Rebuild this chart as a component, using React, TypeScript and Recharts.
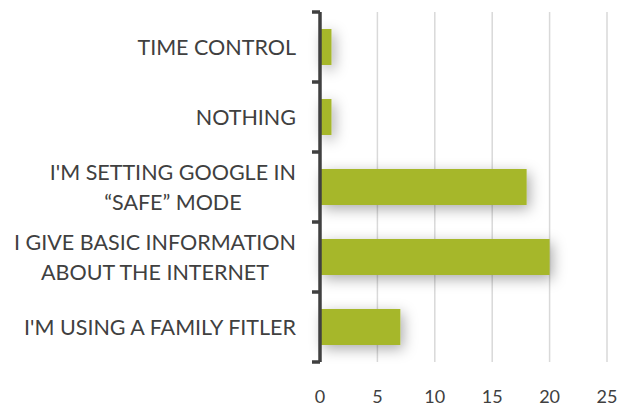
import React from "react";
import { BarChart, Bar, XAxis, YAxis, CartesianGrid } from "recharts";

const categories = [
  "TIME CONTROL",
  "NOTHING",
  "I'M SETTING GOOGLE IN “SAFE” MODE",
  "I GIVE BASIC INFORMATION ABOUT THE INTERNET",
  "I'M USING A FAMILY FITLER",
];
const values = [1, 1, 18, 20, 7];
const xTicks = [0, 5, 10, 15, 20, 25];

const data = categories.map((c, i) => ({ name: c, value: values[i] }));

const FONT = "Lato, 'Open Sans', sans-serif";
const LABEL_SIZE = 21.5;
const TEXT = "#404040";
const TICK_MARGIN = 24;

let ctx: CanvasRenderingContext2D | null = null;
function measure(s: string): number {
  if (!ctx) {
    const c = document.createElement("canvas");
    ctx = c.getContext("2d");
  }
  if (!ctx) return s.length * 11;
  ctx.font = `${LABEL_SIZE}px Lato`;
  return ctx.measureText(s).width;
}

function wrap(s: string, max: number): string[] {
  const words = s.split(" ");
  const lines: string[] = [];
  let cur = "";
  for (const w of words) {
    const t = cur ? cur + " " + w : w;
    if (measure(t) > max && cur) {
      lines.push(cur);
      cur = w;
    } else cur = t;
  }
  if (cur) lines.push(cur);
  return lines;
}

const CatTick = (props: any) => {
  const { x, y, payload, index, visibleTicksCount, height } = props;
  const lines = wrap(String(payload.value), 296);
  const maxW = Math.max(...lines.map(measure));
  const cx = x - maxW / 2;
  const lh = 30;
  const band = Number(height) / Number(visibleTicksCount);
  const axisX = x + TICK_MARGIN;
  const marks: number[] = [];
  if (isFinite(band)) {
    marks.push(y - band / 2);
    if (index === visibleTicksCount - 1) marks.push(y + band / 2);
  }
  return (
    <g>
      {marks.map((my, i) => (
        <line key={"m" + i} x1={axisX - 8} x2={axisX} y1={my} y2={my} stroke="#404040" strokeWidth={3.5} />
      ))}
      {lines.map((l, i) => (
        <text
          key={i}
          x={lines.length > 1 ? cx : x}
          y={y + (i - (lines.length - 1) / 2) * lh}
          textAnchor={lines.length > 1 ? "middle" : "end"}
          dominantBaseline="central"
          fontFamily={FONT}
          fontSize={LABEL_SIZE}
          fill={TEXT}
        >
          {l}
        </text>
      ))}
    </g>
  );
};

const ShadowBar = (props: any) => {
  const { x, y, width, height, fill } = props;
  return <rect x={x} y={y} width={width} height={height} fill={fill} filter="url(#barShadow)" />;
};

export default function App() {
  return (
    <div style={{ position: "absolute", left: 0, top: 0, width: 617, height: 408, background: "#fff" }}>
      <svg width={0} height={0} style={{ position: "absolute" }}>
        <defs>
          <filter id="barShadow" filterUnits="userSpaceOnUse" x={0} y={0} width={617} height={408}>
            <feDropShadow dx={3} dy={4} stdDeviation={7} floodColor="#000" floodOpacity={0.33} />
          </filter>
        </defs>
      </svg>
      <BarChart
        width={617}
        height={408}
        data={data}
        layout="vertical"
        margin={{ top: 12, right: 10, bottom: 0, left: 0 }}
        barSize={36}
      >
        <CartesianGrid horizontal={false} vertical stroke="#d9d9d9" strokeWidth={1.5} />
        <XAxis
          type="number"
          domain={[0, 25]}
          ticks={xTicks}
          axisLine={false}
          tickLine={false}
          height={46}
          tickMargin={22}
          tick={{ fill: TEXT, fontSize: 18, fontFamily: FONT }}
        />
        <YAxis
          type="category"
          dataKey="name"
          width={320}
          tickSize={0}
          tickMargin={TICK_MARGIN}
          axisLine={{ stroke: "#404040", strokeWidth: 3.5 }}
          tickLine={false}
          tick={<CatTick />}
          interval={0}
        />
        <Bar dataKey="value" fill="#a6b72a" isAnimationActive={false} shape={<ShadowBar />} />
      </BarChart>
    </div>
  );
}
